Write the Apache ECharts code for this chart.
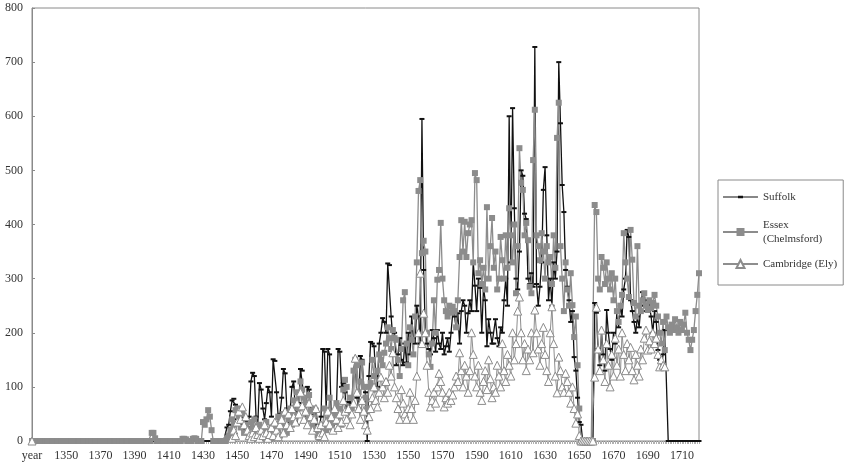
<!DOCTYPE html>
<html>
<head>
<meta charset="utf-8">
<script src="https://cdn.jsdelivr.net/npm/echarts@6/dist/echarts.min.js"></script>
<style>
html,body{margin:0;padding:0;background:#fff;}
#chart{width:847px;height:473px;}
</style>
</head>
<body>
<div id="chart"></div>
<script>
const categories = ['year',
1331,1332,1333,1334,1335,1336,1337,1338,1339,1340,
1341,1342,1343,1344,1345,1346,1347,1348,1349,1350,
1351,1352,1353,1354,1355,1356,1357,1358,1359,1360,
1361,1362,1363,1364,1365,1366,1367,1368,1369,1370,
1371,1372,1373,1374,1375,1376,1377,1378,1379,1380,
1381,1382,1383,1384,1385,1386,1387,1388,1389,1390,
1391,1392,1393,1394,1395,1396,1397,1398,1399,1400,
1401,1402,1403,1404,1405,1406,1407,1408,1409,1410,
1411,1412,1413,1414,1415,1416,1417,1418,1419,1420,
1421,1422,1423,1424,1425,1426,1427,1428,1429,1430,
1431,1432,1433,1434,1435,1436,1437,1438,1439,1440,
1441,1442,1443,1444,1445,1446,1447,1448,1449,1450,
1451,1452,1453,1454,1455,1456,1457,1458,1459,1460,
1461,1462,1463,1464,1465,1466,1467,1468,1469,1470,
1471,1472,1473,1474,1475,1476,1477,1478,1479,1480,
1481,1482,1483,1484,1485,1486,1487,1488,1489,1490,
1491,1492,1493,1494,1495,1496,1497,1498,1499,1500,
1501,1502,1503,1504,1505,1506,1507,1508,1509,1510,
1511,1512,1513,1514,1515,1516,1517,1518,1519,1520,
1521,1522,1523,1524,1525,1526,1527,1528,1529,1530,
1531,1532,1533,1534,1535,1536,1537,1538,1539,1540,
1541,1542,1543,1544,1545,1546,1547,1548,1549,1550,
1551,1552,1553,1554,1555,1556,1557,1558,1559,1560,
1561,1562,1563,1564,1565,1566,1567,1568,1569,1570,
1571,1572,1573,1574,1575,1576,1577,1578,1579,1580,
1581,1582,1583,1584,1585,1586,1587,1588,1589,1590,
1591,1592,1593,1594,1595,1596,1597,1598,1599,1600,
1601,1602,1603,1604,1605,1606,1607,1608,1609,1610,
1611,1612,1613,1614,1615,1616,1617,1618,1619,1620,
1621,1622,1623,1624,1625,1626,1627,1628,1629,1630,
1631,1632,1633,1634,1635,1636,1637,1638,1639,1640,
1641,1642,1643,1644,1645,1646,1647,1648,1649,1650,
1651,1652,1653,1654,1655,1656,1657,1658,1659,1660,
1661,1662,1663,1664,1665,1666,1667,1668,1669,1670,
1671,1672,1673,1674,1675,1676,1677,1678,1679,1680,
1681,1682,1683,1684,1685,1686,1687,1688,1689,1690,
1691,1692,1693,1694,1695,1696,1697,1698,1699,1700,
1701,1702,1703,1704,1705,1706,1707,1708,1709,1710,
1711,1712,1713,1714,1715,1716,1717,1718,1719,1720
].map(String);

const suffolk = [0,
0,0,0,0,0,0,0,0,0,0,
0,0,0,0,0,0,0,0,0,0,
0,0,0,0,0,0,0,0,0,0,
0,0,0,0,0,0,0,0,0,0,
0,0,0,0,0,0,0,0,0,0,
0,0,0,0,0,0,0,0,0,0,
0,0,0,0,0,0,0,0,0,0,
0,0,0,0,0,0,0,0,0,0,
0,0,0,0,0,0,0,0,0,0,
0,0,0,0,0,0,0,0,0,0,
0,0,0,0,0,0,0,0,0,0,
0,0,0,25,30,55,75,78,67,40,
63,45,30,20,35,25,45,110,126,120,
45,30,107,95,60,40,70,100,90,45,
151,148,90,42,50,80,133,125,60,35,
60,100,110,55,30,70,133,130,80,40,
100,95,50,63,40,60,30,25,45,170,
165,60,170,160,40,20,35,60,170,165,
100,107,90,50,72,65,70,130,150,80,
60,157,150,100,90,0,120,183,180,175,
120,100,180,200,227,220,200,328,325,230,
187,200,140,160,190,150,140,180,145,200,
160,230,190,180,250,230,180,595,316,200,
180,170,160,205,190,165,205,180,170,200,
160,175,190,165,200,236,230,210,236,180,
240,260,250,200,236,260,240,330,287,240,
300,283,200,283,260,175,225,200,180,180,
225,190,175,210,200,260,300,250,600,330,
615,430,300,280,350,500,490,420,410,300,
290,310,285,728,290,250,285,330,464,506,
380,260,300,250,330,300,350,700,587,473,
423,316,285,260,220,240,155,130,80,35,
30,0,0,0,0,0,0,0,255,237,
170,140,200,160,130,242,200,170,150,200,
180,240,210,250,230,280,300,390,377,260,
240,220,200,230,210,250,275,270,240,260,
250,230,200,240,220,168,150,137,160,205,
205,0,0,0,0,0,0,0,0,0,
0,0,0,0,0,0,0,0,0,0
];

const essex = [0,
0,0,0,0,0,0,0,0,0,0,
0,0,0,0,0,0,0,0,0,0,
0,0,0,0,0,0,0,0,0,0,
0,0,0,0,0,0,0,0,0,0,
0,0,0,0,0,0,0,0,0,0,
0,0,0,0,0,0,0,0,0,0,
0,0,0,0,0,0,0,0,0,15,
15,5,0,0,0,0,0,0,0,0,
0,0,0,0,0,0,0,4,4,3,
0,0,0,4,5,4,0,0,0,35,
30,40,57,45,20,0,0,0,0,0,
0,0,0,5,10,20,40,30,57,60,
45,25,50,15,30,20,10,35,25,40,
20,10,30,15,5,20,35,10,15,25,
5,30,20,45,10,30,50,20,15,40,
60,30,75,45,90,60,110,95,80,70,
40,85,55,30,60,20,10,5,15,30,
60,20,40,80,25,50,35,70,45,60,
30,95,113,100,55,80,60,130,150,140,
90,110,145,100,80,60,100,107,150,120,
95,130,160,150,140,163,180,210,190,170,
205,190,187,150,120,170,260,275,180,140,
210,187,160,230,330,462,482,347,370,350,
200,160,137,180,260,200,298,316,403,300,
260,240,230,250,237,248,240,210,260,340,
408,350,405,340,384,400,408,330,495,482,
310,334,290,320,280,432,300,360,412,320,
350,280,300,377,334,300,380,320,430,380,
330,400,273,360,541,477,464,380,403,371,
285,273,519,612,380,360,334,384,350,300,
360,330,340,290,380,320,560,625,360,300,
240,330,280,250,310,251,192,230,140,60,
0,0,0,0,0,0,0,0,436,423,
300,280,340,320,290,330,300,280,310,260,
300,240,220,250,270,384,330,300,266,390,
335,255,230,360,250,240,260,273,250,242,
260,245,255,270,250,230,200,180,220,168,
230,210,200,215,205,225,210,200,220,205,
215,237,200,187,168,187,205,240,270,310
];

const cambridge = [0,
null,null,null,null,null,null,null,null,null,null,
null,null,null,null,null,null,null,null,null,null,
null,null,null,null,null,null,null,null,null,null,
null,null,null,null,null,null,null,null,null,null,
null,null,null,null,null,null,null,null,null,null,
null,null,null,null,null,null,null,null,null,null,
null,null,null,null,null,null,null,null,null,null,
null,null,null,null,null,null,null,null,null,null,
null,null,null,null,null,null,null,null,null,null,
null,null,null,null,null,null,null,null,null,null,
null,null,null,null,null,null,null,null,null,null,
null,null,null,null,null,null,5,20,10,35,
55,40,63,30,45,20,10,5,15,8,
25,12,5,20,10,30,15,5,12,25,
10,35,20,8,30,40,15,55,30,50,
25,60,45,35,70,50,90,65,40,55,
30,70,45,20,40,60,25,10,30,15,
8,35,55,30,45,20,60,40,25,50,
35,75,55,40,60,30,50,70,153,90,
60,40,75,55,30,20,45,60,80,100,
75,63,90,118,100,80,110,90,140,120,
163,100,80,60,40,95,70,50,40,60,
90,60,40,75,120,200,310,180,236,200,
140,90,63,75,90,70,100,125,110,90,
63,80,70,90,75,85,100,120,110,163,
130,100,140,120,90,130,200,160,120,100,
140,90,75,110,130,95,150,115,80,100,
90,140,120,100,180,130,110,160,140,120,
200,150,180,240,266,200,150,180,130,170,
150,200,163,242,200,170,140,180,210,160,
130,110,200,248,180,120,89,155,130,100,
90,125,110,90,70,100,60,33,50,10,
0,0,0,0,0,0,0,0,118,247,
170,130,205,150,110,180,140,100,160,120,
190,140,170,120,200,160,130,180,150,173,
130,113,160,140,120,170,150,190,205,168,
185,170,200,180,190,160,137,150,140,137,
null,null,null,null,null,null,null,null,null,null,
null,null,null,null,null,null,null,null,null,null
];

const yTicks = [0, 100, 200, 300, 400, 500, 600, 700, 800];

const chart = echarts.init(document.getElementById('chart'), null, {renderer: 'canvas'});
const serif = '"Liberation Serif", "DejaVu Serif", serif';

chart.setOption({
  animation: false,
  backgroundColor: '#fff',
  grid: {
    left: 32, right: 148, top: 8, bottom: 32,
    show: true, borderColor: '#8a8a8a', borderWidth: 1, backgroundColor: 'transparent'
  },
  legend: {
    orient: 'vertical',
    left: 718, top: 180,
    padding: [7, 6, 14, 4],
    itemGap: 4,
    itemWidth: 35,
    itemHeight: 10,
    borderColor: '#8a8a8a', borderWidth: 1,
    textStyle: {fontFamily: serif, fontSize: 11, color: '#333', lineHeight: 14},
    formatter: function (n) { return n === 'Essex (Chelmsford)' ? 'Essex\n(Chelmsford)' : n; },
    data: [
      {name: 'Suffolk', icon: 'path://M0,0h0.01v0.01h-0.01Z M0,10h0.01v0.01h-0.01Z M0,4.4H35V5.6H0Z M15,3.8H20V6.2H15Z', textStyle: {padding: [3, 0, 3, 0]}},
      {name: 'Essex (Chelmsford)', textStyle: {padding: [14, 0, 0, 0]}},
      {name: 'Cambridge (Ely)'}
    ]
  },
  xAxis: {
    type: 'category',
    data: categories,
    boundaryGap: false,
    axisLine: {lineStyle: {color: '#8a8a8a', width: 1}},
    axisTick: {show: true, interval: 0, length: 3, lineStyle: {color: '#b0b0b0', width: 1}},
    axisLabel: {interval: 19, fontFamily: serif, fontSize: 12, color: '#333', margin: 9},
    splitLine: {show: false}
  },
  yAxis: {
    type: 'value',
    min: yTicks[0], max: yTicks[yTicks.length - 1], interval: 100,
    axisLine: {show: true, lineStyle: {color: '#8a8a8a', width: 1}},
    axisTick: {show: true, inside: true, length: 3, lineStyle: {color: '#8a8a8a'}},
    axisLabel: {fontFamily: serif, fontSize: 12, color: '#333', margin: 9},
    splitLine: {show: false}
  },
  series: [
    {
      name: 'Suffolk', type: 'line', data: suffolk,
      showAllSymbol: true, symbol: 'rect', symbolSize: [5, 2],
      itemStyle: {color: '#111'},
      lineStyle: {color: '#111', width: 1.3},
      connectNulls: false
    },
    {
      name: 'Essex (Chelmsford)', type: 'line', data: essex,
      showAllSymbol: true, symbol: 'rect', symbolSize: 6,
      itemStyle: {color: '#8c8c8c'},
      lineStyle: {color: '#8c8c8c', width: 1.3}
    },
    {
      name: 'Cambridge (Ely)', type: 'line', data: cambridge,
      showAllSymbol: true, symbol: 'triangle', symbolSize: 8,
      itemStyle: {color: '#ffffff', borderColor: '#8c8c8c', borderWidth: 1},
      lineStyle: {color: '#8e8e8e', width: 1}
    }
  ]
});
</script>
</body>
</html>
